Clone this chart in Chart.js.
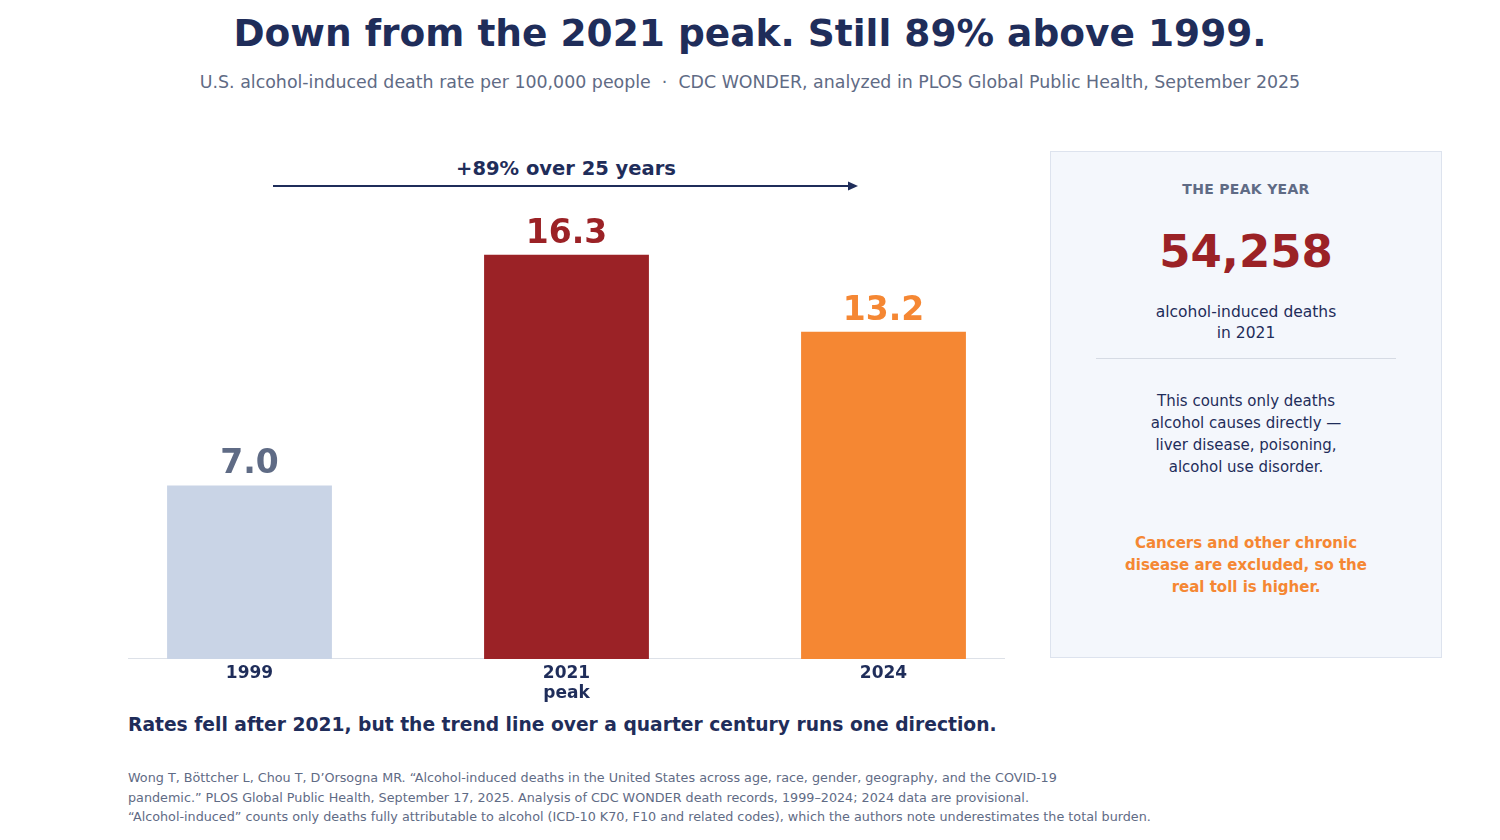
<!DOCTYPE html>
<html>
<head>
<meta charset="utf-8">
<script src="https://cdn.jsdelivr.net/npm/chart.js@4"></script>
<style>
  body { margin:0; width:1500px; height:840px; background:#fff; font-family:"DejaVu Sans", sans-serif; position:relative; overflow:hidden; }
  .abs { position:absolute; }
  h1 { position:absolute; top:11px; left:0; width:1500px; margin:0; text-align:center; font-size:37.5px; font-weight:bold; color:#1f2d5a; }
  .sub { top:72px; left:0; width:1500px; text-align:center; font-size:17.4px; color:#5f6b85; }
  #wrap { left:91px; top:163px; width:951px; height:546px; }
  .base { left:128px; top:658px; width:877px; height:1px; background:#dde1e8; }
  .panel { left:1050px; top:151px; width:390px; height:505px; background:#f4f7fc; border:1px solid #dde3ee; text-align:center; color:#1f2d5a; }
  .note { left:128px; top:714px; font-size:18.7px; font-weight:bold; color:#1f2d5a; }
  .src { left:128px; top:768px; font-size:12.75px; line-height:19.5px; color:#5f6b85; }
</style>
</head>
<body>
<h1>Down from the 2021 peak. Still 89% above 1999.</h1>
<div class="abs sub">U.S. alcohol-induced death rate per 100,000 people &nbsp;·&nbsp; CDC WONDER, analyzed in PLOS Global Public Health, September 2025</div>

<svg class="abs" style="left:0;top:0" width="1500" height="200">
  <text x="566" y="175" text-anchor="middle" font-family="DejaVu Sans" font-weight="bold" font-size="19.5" fill="#1f2d5a">+89% over 25 years</text>
  <line x1="273" y1="186" x2="850" y2="186" stroke="#1f2d5a" stroke-width="2"/>
  <polygon points="858,186 848,181.5 848,190.5" fill="#1f2d5a"/>
</svg>

<div class="abs base"></div>
<div class="abs" id="wrap"><canvas id="chart" width="951" height="546"></canvas></div>

<div class="abs panel">
  <div style="margin-top:29px;font-size:14px;font-weight:bold;color:#5f6b85;letter-spacing:0.3px">THE PEAK YEAR</div>
  <div style="margin-top:28px;font-size:45px;font-weight:bold;color:#9b2226">54,258</div>
  <div style="margin-top:24px;font-size:15.5px;line-height:21px">alcohol-induced deaths<br>in 2021</div>
  <div style="margin:14px auto 0;width:300px;height:1px;background:#d6dbe4"></div>
  <div style="margin-top:31px;font-size:15px;line-height:22px">This counts only deaths<br>alcohol causes directly —<br>liver disease, poisoning,<br>alcohol use disorder.</div>
  <div style="margin-top:54px;font-size:15px;line-height:22px;font-weight:bold;color:#f58733">Cancers and other chronic<br>disease are excluded, so the<br>real toll is higher.</div>
</div>

<div class="abs note">Rates fell after 2021, but the trend line over a quarter century runs one direction.</div>
<div class="abs src">Wong T, Böttcher L, Chou T, D’Orsogna MR. “Alcohol-induced deaths in the United States across age, race, gender, geography, and the COVID-19<br>pandemic.” PLOS Global Public Health, September 17, 2025. Analysis of CDC WONDER death records, 1999–2024; 2024 data are provisional.<br>“Alcohol-induced” counts only deaths fully attributable to alcohol (ICD-10 K70, F10 and related codes), which the authors note underestimates the total burden.</div>

<script>
const years = [['1999'], ['2021', 'peak'], ['2024']];
const rates = [7.0, 16.3, 13.2];
const barColors = ['#c9d4e6', '#9b2226', '#f58733'];
const labelColors = ['#5f6b85', '#9b2226', '#f58733'];

const valueLabels = {
  id: 'valueLabels',
  afterDatasetsDraw(chart) {
    const ctx = chart.ctx;
    chart.getDatasetMeta(0).data.forEach((bar, i) => {
      ctx.save();
      ctx.font = 'bold 33px "DejaVu Sans"';
      ctx.fillStyle = labelColors[i];
      ctx.textAlign = 'center';
      ctx.textBaseline = 'alphabetic';
      ctx.fillText(rates[i].toFixed(1), bar.x, bar.y - 12);
      ctx.restore();
    });
  }
};

new Chart(document.getElementById('chart'), {
  type: 'bar',
  data: {
    labels: years,
    datasets: [{ data: rates, backgroundColor: barColors, barPercentage: 0.52, categoryPercentage: 1 }]
  },
  options: {
    responsive: false,
    animation: false,
    layout: { padding: 0 },
    plugins: { legend: { display: false }, tooltip: { enabled: false } },
    scales: {
      x: {
        grid: { display: false, drawTicks: false },
        border: { display: false },
        ticks: { color: '#1f2d5a', font: { family: 'DejaVu Sans', size: 17, weight: 'bold' }, padding: 4 },
        afterFit(s) { s.height = 50; }
      },
      y: { display: false, min: 0, max: 20 }
    }
  },
  plugins: [valueLabels]
});
</script>
</body>
</html>
